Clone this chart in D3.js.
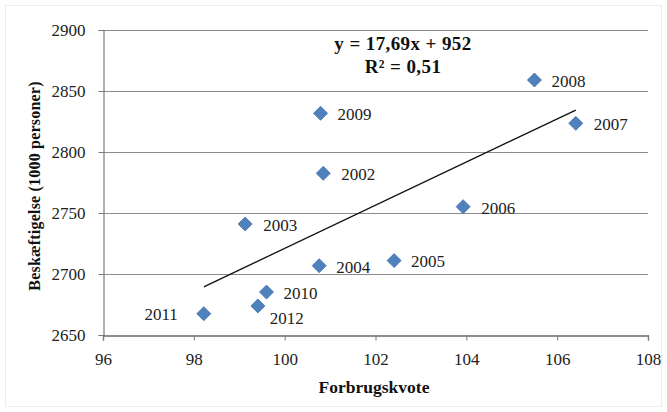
<!DOCTYPE html>
<html>
<head>
<meta charset="utf-8">
<script src="https://cdn.jsdelivr.net/npm/d3@7"></script>
<style>
  html, body { margin: 0; padding: 0; background: #fff; }
  svg { display: block; }
</style>
</head>
<body>
<div id="chart"></div>
<script>
// Årstal, forbrugskvote og beskæftigelse (1000 personer)
const years = ["2002", "2003", "2004", "2005", "2006", "2007", "2008", "2009", "2010", "2011", "2012"];
const forbrugskvote = [100.85, 99.13, 100.76, 102.41, 103.93, 106.41, 105.5, 100.79, 99.6, 98.22, 99.41];
const beskaeftigelse = [2782.5, 2741, 2706.8, 2711, 2755.2, 2823.5, 2859, 2831.7, 2685.2, 2667.5, 2673.8];

// Akser
const xTicks = [96, 98, 100, 102, 104, 106, 108];
const yTicks = [2650, 2700, 2750, 2800, 2850, 2900];

// Lineær trend: y = 17,69x + 952
const trendSlope = 17.69;
const trendIntercept = 952;
const trendLabel = ["y = 17,69x + 952", "R\u00B2 = 0,51"];

// Etiketplacering pr. år (forskydning i pixels)
const labelOffsets = {
  "2002": [18, 7], "2003": [18, 7], "2004": [17, 7], "2005": [17, 6],
  "2006": [18, 7], "2007": [18, 7], "2008": [17, 7], "2009": [17, 7],
  "2010": [17, 7], "2011": [-26, 6], "2012": [12, 18]
};

const W = 667, H = 412;
const plotLeft = 103, plotRight = 648, plotTop = 30, plotBottom = 335;

const svg = d3.select("#chart").append("svg")
  .attr("width", W).attr("height", H);

// Svag ramme
svg.append("rect")
  .attr("x", 5.5).attr("y", 5.5).attr("width", W - 11).attr("height", H - 11)
  .attr("fill", "none").attr("stroke", "#ececec").attr("stroke-width", 1);

const x = d3.scaleLinear().domain([96, 108]).range([plotLeft, plotRight]);
const y = d3.scaleLinear().domain([2650, 2900]).range([plotBottom, plotTop]);

const serif = "'Liberation Serif', 'Times New Roman', serif";

// Vandrette gitterlinjer
svg.append("g")
  .selectAll("line")
  .data(yTicks.slice(1))
  .join("line")
  .attr("x1", plotLeft).attr("x2", plotRight)
  .attr("y1", d => Math.round(y(d)) + 0.5).attr("y2", d => Math.round(y(d)) + 0.5)
  .attr("stroke", "#8c8c8c").attr("stroke-width", 1);

// Y-akse
const yAxis = svg.append("g")
  .attr("transform", `translate(${plotLeft + 0.5},0)`)
  .call(d3.axisLeft(y).tickValues(yTicks).tickSize(5).tickPadding(13).tickFormat(d3.format("d")));
yAxis.attr("font-family", serif);
yAxis.select(".domain").attr("stroke", "#7a7a7a").attr("stroke-width", 1.2);
yAxis.selectAll(".tick line").attr("stroke", "#7a7a7a");
yAxis.selectAll(".tick text")
  .attr("font-family", serif).attr("font-size", 17).attr("fill", "#222");

// X-akse
const xAxis = svg.append("g")
  .attr("transform", `translate(0,${plotBottom + 0.5})`)
  .call(d3.axisBottom(x).tickValues(xTicks).tickSize(5).tickPadding(12).tickFormat(d3.format("d")));
xAxis.attr("font-family", serif);
xAxis.select(".domain").attr("stroke", "#6a6a6a").attr("stroke-width", 1.4);
xAxis.selectAll(".tick line").attr("stroke", "#7a7a7a");
xAxis.selectAll(".tick text")
  .attr("font-family", serif).attr("font-size", 17).attr("fill", "#222");

// Trendlinje over dataområdet
const [xMin, xMax] = d3.extent(forbrugskvote);
svg.append("line")
  .attr("x1", x(xMin)).attr("y1", y(trendSlope * xMin + trendIntercept))
  .attr("x2", x(xMax)).attr("y2", y(trendSlope * xMax + trendIntercept))
  .attr("stroke", "#111").attr("stroke-width", 1.3);

// Datapunkter (ruder)
const points = years.map((yr, i) => ({ yr, fx: forbrugskvote[i], by: beskaeftigelse[i] }));
const r = 7;
const diamond = `M0,${-r}L${r},0L0,${r}L${-r},0Z`;

svg.append("g")
  .selectAll("path")
  .data(points)
  .join("path")
  .attr("d", diamond)
  .attr("transform", d => `translate(${x(d.fx)},${y(d.by)})`)
  .attr("fill", "#4f81bd")
  .attr("stroke", "#3f6ea8").attr("stroke-width", 0.8);

// Årsetiketter
svg.append("g")
  .selectAll("text")
  .data(points)
  .join("text")
  .attr("x", d => x(d.fx) + labelOffsets[d.yr][0])
  .attr("y", d => y(d.by) + labelOffsets[d.yr][1])
  .attr("text-anchor", d => labelOffsets[d.yr][0] < 0 ? "end" : "start")
  .attr("font-family", serif).attr("font-size", 17).attr("fill", "#222")
  .text(d => d.yr);

// Ligning og forklaringsgrad
svg.append("g")
  .selectAll("text")
  .data(trendLabel)
  .join("text")
  .attr("x", 403)
  .attr("y", (d, i) => 50 + i * 23)
  .attr("text-anchor", "middle")
  .attr("font-family", serif).attr("font-size", 19).attr("font-weight", "bold")
  .attr("letter-spacing", 0.4).attr("fill", "#111")
  .text(d => d);

// Aksetitler
svg.append("text")
  .attr("x", 374).attr("y", 393)
  .attr("text-anchor", "middle")
  .attr("font-family", serif).attr("font-size", 17.5).attr("font-weight", "bold").attr("fill", "#111")
  .text("Forbrugskvote");

svg.append("text")
  .attr("transform", "translate(40,186) rotate(-90)")
  .attr("text-anchor", "middle")
  .attr("font-family", serif).attr("font-size", 16).attr("font-weight", "bold")
  .attr("letter-spacing", 0.2).attr("fill", "#111")
  .text("Beskæftigelse (1000 personer)");
</script>
</body>
</html>
